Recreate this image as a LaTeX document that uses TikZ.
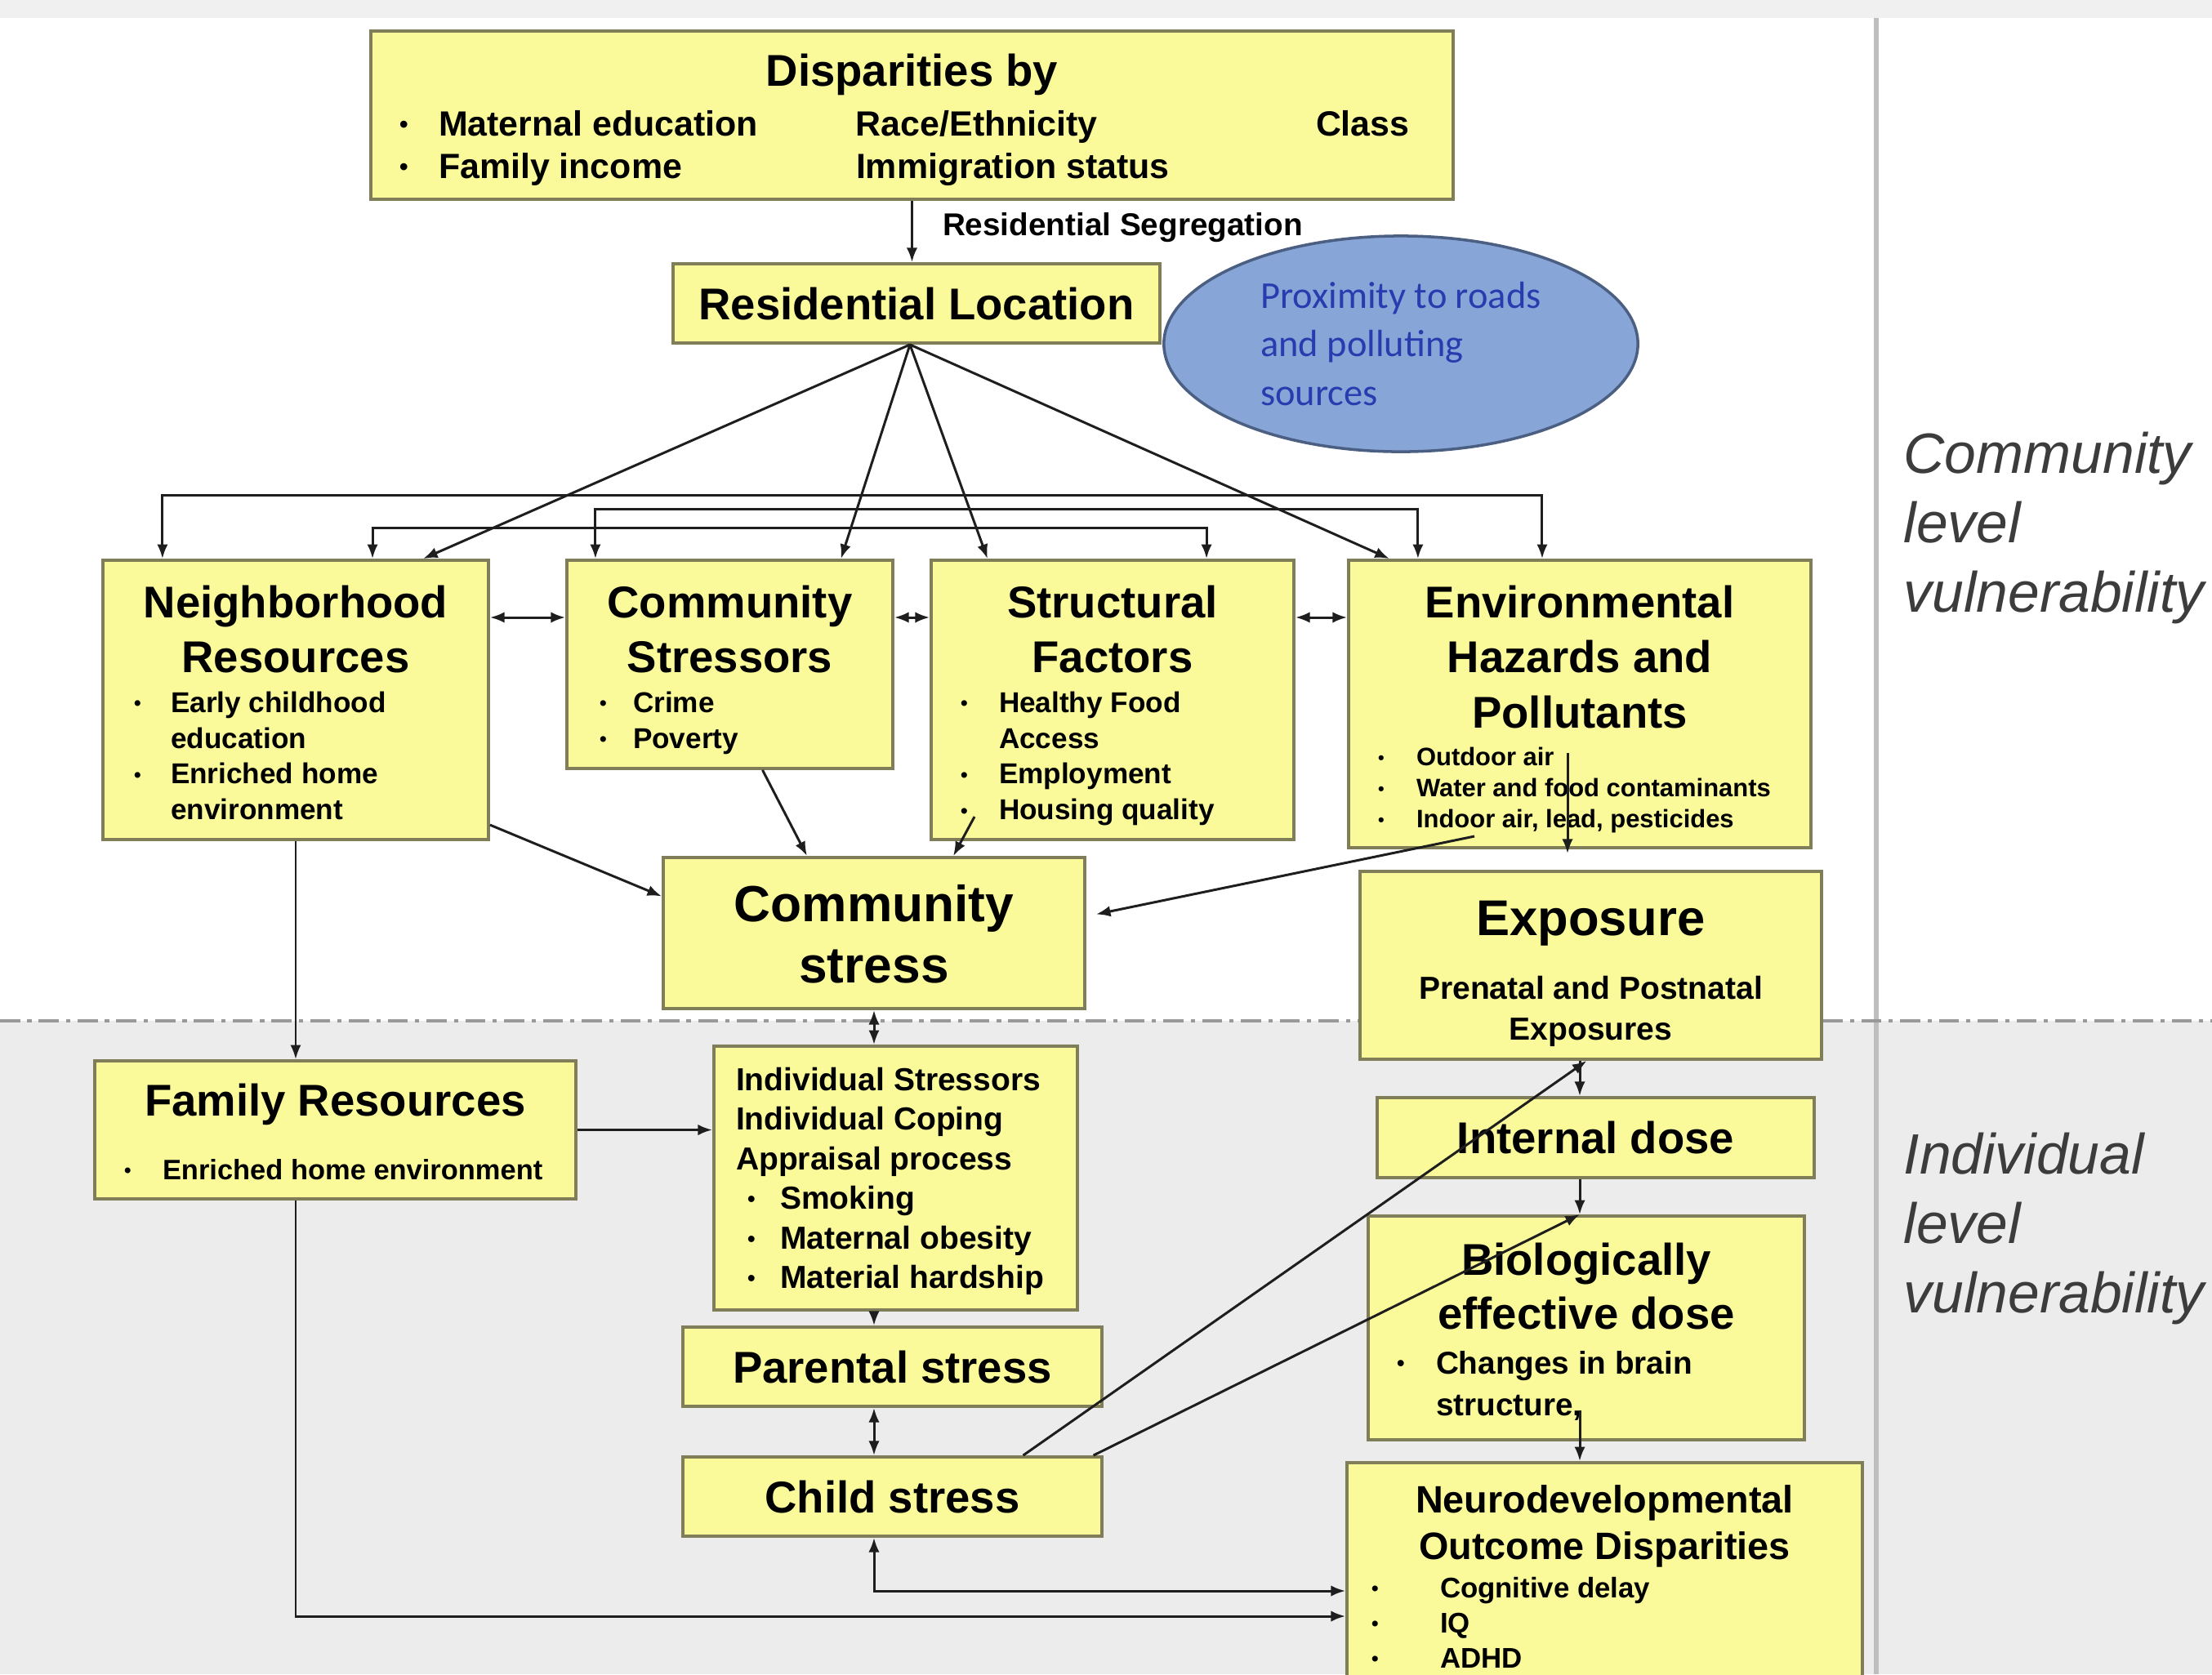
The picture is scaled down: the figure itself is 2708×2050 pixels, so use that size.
\documentclass[tikz,border=0pt]{standalone}
\usepackage{fontspec}
\setmainfont{Liberation Sans}
\newfontfamily\calibri{Carlito}
\usetikzlibrary{arrows.meta,shapes.geometric}

\definecolor{boxfill}{RGB}{250,250,155}
\definecolor{boxline}{RGB}{128,126,88}
\definecolor{ovalfill}{RGB}{135,165,215}
\definecolor{ovalline}{RGB}{75,95,130}
\definecolor{ovaltext}{RGB}{40,60,175}
\definecolor{lowband}{RGB}{236,236,236}
\definecolor{topband}{RGB}{240,240,240}
\definecolor{divider}{RGB}{190,190,190}
\definecolor{sidetext}{RGB}{60,60,60}
\definecolor{wirecol}{RGB}{30,30,30}

\newlength{\pxu}
\setlength{\pxu}{0.01cm}
% fixed size panel, text starts at the top
\newcommand{\panel}[3]{\parbox[c][#2\pxu][t]{#1\pxu}{#3}}
% small bullet
\newcommand{\dotb}{\raisebox{0.08em}{\scalebox{0.7}{\textbullet}}}
% bullet item: bullet offset, text offset, text
\newcommand{\itm}[3]{\par\hangindent=#2\pxu\hangafter=1\hspace*{#1\pxu}\makebox[\dimexpr#2\pxu-#1\pxu\relax][l]{\dotb}#3}
\newcommand{\ttlfont}{\fontsize{15.5}{19.3}\selectfont}

\begin{document}
\begin{tikzpicture}[x=0.01cm, y=-0.01cm,
  >={Latex[length=5pt,width=3.8pt]},
  ybox/.style={draw=boxline, fill=boxfill, line width=1.1pt, inner sep=0pt, font=\bfseries},
  wide/.style={ybox, font=\bfseries\ttlfont},
  wire/.style={draw=wirecol, line width=0.85pt},
  side/.style={anchor=north west, inner sep=0pt, align=left, text=sidetext, font=\itshape\fontsize{19.8}{24.2}\selectfont}]

    % background
    \useasboundingbox (0,0) rectangle (2708,2050);
    \clip (0,0) rectangle (2708,2050);
    \fill[topband] (0,0) rectangle (2708,22);
    \fill[lowband] (0,1250) rectangle (2708,2050);
    \draw[divider, line width=1.6pt] (2297,22) -- (2297,2050);
    \draw[gray!80, line width=1pt, dash pattern=on 7pt off 2.5pt on 1.5pt off 2.5pt] (0,1250) -- (2708,1250);

    % top of the chain
    \node[ybox] (dispar) at (1116.5,141) {\panel{1325}{206}{\centering
      \fontsize{15.5}{19}\selectfont\rule{0pt}{67\pxu}Disparities by\par
      \raggedright\fontsize{12.2}{14.8}\selectfont\vspace{2.6pt}
      \hspace*{35\pxu}\makebox[48\pxu][l]{\dotb}\makebox[511\pxu][l]{Maternal education}\makebox[563\pxu][l]{Race/Ethnicity}Class\par
      \hspace*{35\pxu}\makebox[48\pxu][l]{\dotb}\makebox[511\pxu][l]{Family income}Immigration status}};
    \node[wide, minimum width=5.96cm, minimum height=0.97cm] (resloc) at (1122,371.5) {Residential Location};
    \node[ellipse, draw=ovalline, fill=ovalfill, line width=1pt, minimum width=5.8cm, minimum height=2.64cm, inner sep=0pt,
          align=left, text=ovaltext, font=\calibri\fontsize{13.2}{16.8}\selectfont] (prox) at (1715,421) {Proximity to roads\\and polluting\\sources};

    % community level boxes
    \node[ybox] (neigh) at (362,857) {\panel{472}{342}{\centering\ttlfont\rule{0pt}{70\pxu}Neighborhood\\Resources\par
      \raggedright\fontsize{10}{12.5}\selectfont\vspace{1.2pt}
      \itm{38}{83}{Early childhood\newline education}
      \itm{38}{83}{Enriched home\newline environment}}};
    \node[ybox] (comstr) at (893.5,813.5) {\panel{399}{255}{\centering\ttlfont\rule{0pt}{70\pxu}Community\\Stressors\par
      \raggedright\fontsize{10}{12.5}\selectfont\vspace{1.2pt}
      \itm{40}{81}{Crime}
      \itm{40}{81}{Poverty}}};
    \node[ybox] (struct) at (1362,857) {\panel{444}{342}{\centering\ttlfont\rule{0pt}{70\pxu}Structural\\Factors\par
      \raggedright\fontsize{10}{12.5}\selectfont\vspace{1.2pt}
      \itm{36}{83}{Healthy Food\newline Access}
      \itm{36}{83}{Employment}
      \itm{36}{83}{Housing quality}}};
    \node[ybox] (envhaz) at (1934,862) {\panel{566}{352}{\centering\ttlfont\rule{0pt}{70\pxu}Environmental\\Hazards and\\Pollutants\par
      \raggedright\fontsize{8.8}{10.8}\selectfont\vspace{2.3pt}
      \itm{36}{83}{Outdoor air}
      \itm{36}{83}{Water and food contaminants}
      \itm{36}{83}{Indoor air, lead, pesticides}}};
    \node[ybox] (comstress) at (1070,1142.5) {\panel{516}{185}{\centering\fontsize{17.7}{21.6}\selectfont\rule{0pt}{78\pxu}Community\\stress}};
    \node[ybox] (expo) at (1947.5,1182) {\panel{565}{230}{\centering\fontsize{17.5}{21}\selectfont\rule{0pt}{78\pxu}Exposure\par
      \fontsize{11.1}{14.2}\selectfont\vspace{8.2pt}
      Prenatal and Postnatal\\Exposures}};

    % individual level boxes
    \node[ybox] (famres) at (410.5,1383.5) {\panel{589}{169}{\centering\ttlfont\rule{0pt}{67\pxu}Family Resources\par
      \raggedright\fontsize{9.8}{12}\selectfont\vspace{10.2pt}
      \itm{36}{83}{Enriched home environment}}};
    \node[ybox] (indiv) at (1096.5,1442.5) {\panel{445}{323}{\raggedright\fontsize{11.1}{13.8}\selectfont
      \hspace*{27\pxu}\rule{0pt}{54\pxu}Individual Stressors\par
      \hspace*{27\pxu}Individual Coping\par
      \hspace*{27\pxu}Appraisal process
      \itm{41}{81}{Smoking}
      \itm{41}{81}{Maternal obesity}
      \itm{41}{81}{Material hardship}}};
    \node[wide, minimum width=5.13cm, minimum height=0.97cm] (parent) at (1092.5,1673.5) {Parental stress};
    \node[wide, minimum width=5.13cm, minimum height=0.97cm] (child) at (1092.5,1832.5) {Child stress};
    \node[wide, minimum width=5.35cm, minimum height=0.98cm] (intdose) at (1953.5,1393) {Internal dose};
    \node[ybox] (biodose) at (1942,1626) {\panel{534}{274}{\centering\fontsize{15.5}{18.8}\selectfont\rule{0pt}{72\pxu}Biologically\\effective dose\par
      \raggedright\fontsize{11}{14.7}\selectfont\vspace{0.9pt}
      \itm{35}{83}{Changes in brain\newline structure,}}};
    \node[ybox] (neuro) at (1964.5,1925.5) {\panel{631}{269}{\centering\fontsize{13.3}{16.2}\selectfont\rule{0pt}{61\pxu}Neurodevelopmental\\Outcome Disparities\par
      \raggedright\fontsize{9.9}{12.3}\selectfont\vspace{1.1pt}
      \itm{30}{114}{Cognitive delay}
      \itm{30}{114}{IQ}
      \itm{30}{114}{ADHD}}};

    % level labels
    \node[side] (comlvl) at (2330,528) {Community\\level\\vulnerability};
    \node[side] (indlvl) at (2330,1386) {Individual\\level\\vulnerability};

    % helper points
    \coordinate (fan) at ([xshift=-0.08cm]resloc.south);
    \coordinate (sidey) at (0,756);
    \coordinate (dosex) at (1934,0);
    \coordinate (strout) at (1193,1000);
    \coordinate (envout) at (1805,1024);
    \coordinate (envdown) at (1919,922);
    \coordinate (bioout) at (1934,1727);
    \coordinate (loopa) at (0,1948);
    \coordinate (loopb) at (0,1979);

    % segregation
    \draw[wire, ->] (dispar.south) -- (dispar.south |- resloc.north)
      node[pos=0.43, anchor=west, xshift=0.36cm, inner sep=0pt, font=\bfseries\fontsize{11}{13}\selectfont] (seglbl) {Residential Segregation};

    % fan out of the location
    \draw[wire, ->] (fan) -- ([xshift=1.56cm]neigh.north);
    \draw[wire, ->] (fan) -- ([xshift=1.36cm]comstr.north);
    \draw[wire, ->] (fan) -- ([xshift=-1.53cm]struct.north);
    \draw[wire, ->] (fan) -- ([xshift=-2.33cm]envhaz.north);

    % links over the top row
    \draw[wire, <->] ([xshift=-1.63cm]neigh.north) -- ++(0,-78) -| ([xshift=-0.46cm]envhaz.north);
    \draw[wire, <->] ([xshift=-1.645cm]comstr.north) -- ++(0,-61) -| ([xshift=-1.98cm]envhaz.north);
    \draw[wire, <->] ([xshift=0.94cm]neigh.north) -- ++(0,-38) -| ([xshift=1.15cm]struct.north);

    % side by side
    \draw[wire, <->] (neigh.east |- sidey) -- (comstr.west |- sidey);
    \draw[wire, <->] (comstr.east |- sidey) -- (struct.west |- sidey);
    \draw[wire, <->] (struct.east |- sidey) -- (envhaz.west |- sidey);

    % into community stress
    \draw[wire, ->] ([xshift=0.4cm]comstr.south) -- ([xshift=-0.82cm]comstress.north);
    \draw[wire, ->] (strout) -- ([xshift=0.97cm]comstress.north);
    \draw[wire, ->] ([yshift=-1.53cm]neigh.east) -- ([yshift=0.45cm]comstress.west);
    \draw[wire, ->] (envout) -- ([xshift=0.12cm, yshift=0.23cm]comstress.east);
    \draw[wire, ->, shorten >=0.2cm] (envdown) -- (envdown |- expo.north);

    % individual level links
    \draw[wire, <->] (comstress.south) -- (comstress.south |- indiv.north);
    \draw[wire, ->] (neigh.south) -- (neigh.south |- famres.north);
    \draw[wire, ->] (famres.east) -- (famres.east -| indiv.west);
    \draw[wire, ->] (comstress.south |- indiv.south) -- (comstress.south |- parent.north);
    \draw[wire, <->] (comstress.south |- parent.south) -- (comstress.south |- child.north);

    % dose chain
    \draw[wire, ->] ([xshift=1.6cm]child.north) -- ([xshift=-0.05cm]expo.south);
    \draw[wire, ->] (dosex |- expo.south) -- (dosex |- intdose.north);
    \draw[wire, ->] ([xshift=2.46cm]child.north) -- (dosex |- biodose.north);
    \draw[wire, ->] (dosex |- intdose.south) -- (dosex |- biodose.north);
    \draw[wire, ->] (bioout) -- (dosex |- neuro.north);

    % to the outcomes
    \draw[wire, <->] (comstress.south |- child.south) |- (neuro.west |- loopa);
    \draw[wire, ->] (neigh.south |- famres.south) |- (neuro.west |- loopb);

\end{tikzpicture}
\end{document}
